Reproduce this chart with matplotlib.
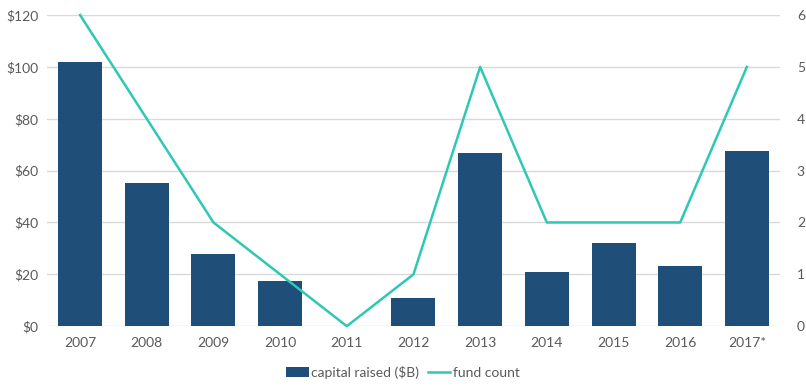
import matplotlib.pyplot as plt
from matplotlib.ticker import FuncFormatter

years = ["2007", "2008", "2009", "2010", "2011", "2012",
         "2013", "2014", "2015", "2016", "2017*"]
capital = [102, 55.2, 27.8, 17.4, 0, 10.8, 66.8, 20.8, 32, 23.2, 67.6]
fund_count = [6, 4, 2, 1, 0, 1, 5, 2, 2, 2, 5]

plt.rcParams["font.family"] = ["Lato", "DejaVu Sans"]
text_color = "#595959"

fig = plt.figure(figsize=(8.06, 3.86), dpi=100)
ax = fig.add_axes([0.058, 0.155, 0.910, 0.806])
ax2 = ax.twinx()

x = list(range(len(years)))
ax.bar(x, capital, width=0.66, color="#1F4E79", label="capital raised ($B)", zorder=2)
ax2.plot(x, fund_count, color="#2EC8B4", linewidth=1.8, label="fund count", clip_on=False)

ax.set_xlim(-0.5, len(years) - 0.5)
ax.set_ylim(0, 120)
ax.set_yticks(range(0, 121, 20))
ax.yaxis.set_major_formatter(FuncFormatter(lambda v, p: f"${v:.0f}"))
ax2.set_ylim(0, 6)
ax2.set_yticks(range(0, 7))

ax.set_xticks(x)
ax.set_xticklabels(years)
ax.grid(axis="y", color="#D9D9D9", linewidth=1, zorder=0)
ax.set_axisbelow(True)

for a in (ax, ax2):
    for s in a.spines.values():
        s.set_visible(False)
    a.tick_params(length=0, labelsize=10, colors=text_color)
ax.tick_params(axis="x", pad=8)
ax.tick_params(axis="y", pad=6)
ax2.tick_params(axis="y", pad=12)

h1, l1 = ax.get_legend_handles_labels()
h2, l2 = ax2.get_legend_handles_labels()
leg = fig.legend(h1 + h2, l1 + l2, loc="center", bbox_to_anchor=(0.5, 0.035),
                 ncol=2, frameon=False, fontsize=10, handlelength=1.6,
                 handletextpad=0.2, columnspacing=0.6)
for t in leg.get_texts():
    t.set_color(text_color)

fig.savefig("out.png", dpi=100)
